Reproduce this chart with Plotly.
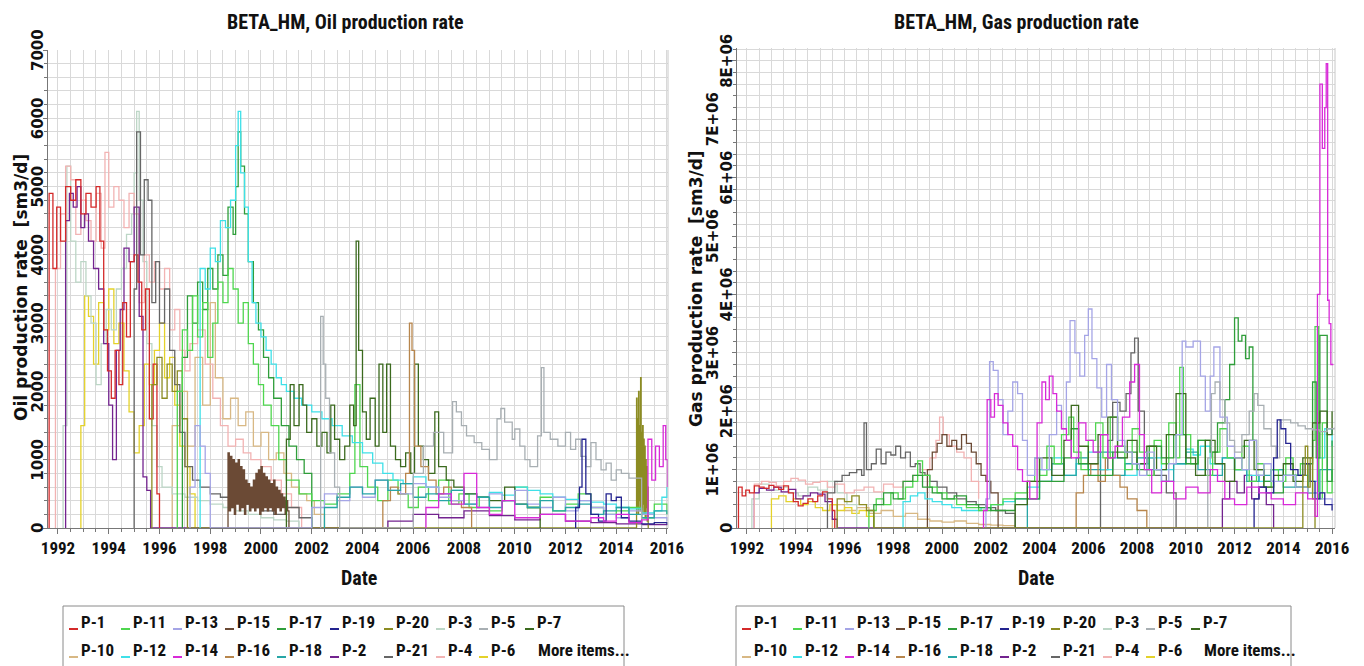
import pandas as pd
import plotly.graph_objects as go

W, H = 1364, 666

# ---------------- legend / series identity ----------------
WELLS_ROW1 = ["P-1", "P-11", "P-13", "P-15", "P-17", "P-19", "P-20", "P-3", "P-5", "P-7"]
WELLS_ROW2 = ["P-10", "P-12", "P-14", "P-16", "P-18", "P-2", "P-21", "P-4", "P-6"]
MORE_TEXT = "More items..."
COLORS = {
    "P-1": "#d42a2a", "P-11": "#4fd64f", "P-13": "#a5a5e6", "P-15": "#6b4a35",
    "P-17": "#2f9e3a", "P-19": "#23238f", "P-20": "#8c8c22", "P-3": "#bcd6c6",
    "P-5": "#a8afb3", "P-7": "#3b6a1e", "P-10": "#d8b884", "P-12": "#3fe0e8",
    "P-14": "#d82ad8", "P-16": "#b8864c", "P-18": "#27a6a6", "P-2": "#73238f",
    "P-21": "#666666", "P-4": "#f2b3b3", "P-6": "#e4d22a",
}
OIL_TICKS = [0, 1000, 2000, 3000, 4000, 5000, 6000, 7000]
OIL_TICK_TEXT = ["0", "1000", "2000", "3000", "4000", "5000", "6000", "7000"]
GAS_TICKS = [0, 1e6, 2e6, 3e6, 4e6, 5e6, 6e6, 7e6, 8e6]
GAS_TICK_TEXT = ["0", "1E+06", "2E+06", "3E+06", "4E+06", "5E+06", "6E+06", "7E+06", "8E+06"]

# ---------------- OIL production rate [sm3/d] (time in decimal years) ----------------
OIL_P1_T = [1991.63, 1991.65, 1991.8, 1991.95, 1992.1, 1992.3, 1992.5, 1992.7, 1992.9, 1993.1, 1993.3, 1993.5,
            1993.65, 1993.8, 1993.95, 1994.1, 1994.25, 1994.4, 1994.55, 1994.7, 1994.85, 1995.0, 1995.15,
            1995.3, 1995.45, 1995.6, 1995.75, 1995.9, 1996.0]
OIL_P1_V = [0, 4900, 3800, 4700, 4200, 5000, 4800, 5100, 4600, 4900, 4700, 5000,
            4200, 2900, 2300, 1900, 2600, 2100, 3300, 2800, 3900, 4000, 3600,
            2900, 3500, 1600, 2400, 500, 0]

OIL_P2_T = [1992.28, 1992.3, 1992.45, 1992.6, 1992.75, 1992.9, 1993.05, 1993.2, 1993.4, 1993.6, 1993.8, 1994.0,
            1994.15, 1994.3, 1994.45, 1994.6, 1994.8, 1995.0, 1995.2, 1995.35, 1995.5, 1995.65,
            2005.0, 2006.0, 2007.0, 2008.0, 2009.0, 2010.0, 2011.0, 2012.0, 2013.0, 2014.0, 2015.0, 2016.0]
OIL_P2_V = [0, 4500, 4900, 4700, 5000, 4400, 4600, 4200, 3800, 3500, 2700, 1800,
            1000, 2600, 3200, 4100, 3900, 4700, 3100, 750, 550, 0,
            100, 200, 150, 250, 180, 120, 200, 100, 80, 60, 50, 40]

OIL_P3_T = [1992.18, 1992.2, 1992.35, 1992.5, 1992.7, 1992.9, 1993.1, 1993.3, 1993.5, 1993.7, 1993.9, 1994.1,
            1994.3, 1994.5, 1994.7, 1994.9, 1995.0, 1995.1, 1995.2, 1995.35, 1995.5, 1995.7, 1995.9, 1996.1,
            1996.5, 1997.0, 1997.5, 1998.0, 1998.5, 1999.0, 1999.5, 2000.0, 2000.5, 2001.0, 2001.5]
OIL_P3_V = [0, 1500, 5300, 4200, 3600, 3900, 3400, 3000, 2100, 2700, 3200, 2900,
            3500, 3800, 4300, 4600, 5200, 6100, 4800, 3900, 2700, 1500, 900, 600,
            500, 450, 400, 350, 300, 250, 200, 150, 120, 100, 0]

OIL_P4_T = [1991.88, 1991.9, 1992.1, 1992.3, 1992.5, 1992.7, 1992.9, 1993.1, 1993.3, 1993.5, 1993.7, 1993.85,
            1994.0, 1994.2, 1994.4, 1994.6, 1994.8, 1995.0, 1995.2, 1995.4, 1995.6, 1995.8, 1996.0, 1996.2,
            1996.4, 1996.6, 1996.8, 1997.0, 1997.2, 1997.5, 1997.8, 1998.1, 1998.4, 1998.7, 1999.0, 1999.3,
            1999.6, 2000.0, 2000.4, 2000.8, 2001.2, 2001.6]
OIL_P4_V = [0, 3800, 4600, 5300, 5100, 4300, 4800, 4500, 4200, 4900, 4100, 5500,
            4700, 5000, 4800, 4400, 4900, 4600, 3300, 4000, 3600, 3900, 3500, 3800,
            2900, 3200, 2600, 2300, 2700, 2900, 2400, 1900, 1500, 1200, 1300, 1100,
            1000, 900, 700, 500, 300, 0]

OIL_P5_T = [2002.33, 2002.35, 2002.45, 2002.55, 2002.7, 2002.9, 2003.1, 2006.0, 2006.4, 2006.8, 2007.2, 2007.55,
            2007.7, 2007.9, 2008.1, 2008.4, 2008.7, 2009.0, 2009.3, 2009.45, 2009.6, 2009.9, 2010.0, 2010.2,
            2010.4, 2010.6, 2010.9, 2011.05, 2011.15, 2011.4, 2011.7, 2012.0, 2012.2, 2012.4, 2012.6, 2012.8,
            2013.0, 2013.2, 2013.4, 2013.6, 2013.8, 2014.0, 2014.2, 2014.5, 2014.8, 2015.0]
OIL_P5_V = [0, 3100, 2400, 1900, 1100, 600, 0, 800, 1200, 1400, 1100, 1850,
            1700, 1500, 1350, 1250, 1150, 1000, 1600, 1750, 1550, 1300, 1450, 1200,
            1000, 900, 1350, 2350, 1400, 1300, 1200, 1400, 1150, 1300, 1050, 900,
            1250, 1000, 850, 950, 700, 850, 800, 730, 730, 0]

OIL_P6_T = [1992.88, 1992.9, 1993.05, 1993.2, 1993.4, 1993.6, 1993.8, 1994.0, 1994.2, 1994.4, 1994.6, 1994.8,
            1995.0, 1995.2, 1995.4, 1995.6, 1995.8, 1996.0, 1996.2, 1996.4, 1996.6, 1996.8, 1997.0, 1997.2, 1997.4]
OIL_P6_V = [0, 1500, 3400, 3100, 2400, 3300, 2900, 3500, 2700, 3000, 2300, 1700,
            1100, 1500, 2400, 2100, 2600, 3000, 2200, 2500, 1800, 1200, 900, 500, 0]

OIL_P7_T = [2000.98, 2001.0, 2001.15, 2001.3, 2001.5, 2001.65, 2001.8, 2002.0, 2002.2, 2002.4, 2002.6, 2002.75,
            2002.9, 2003.1, 2003.3, 2003.5, 2003.65, 2003.75, 2003.85, 2004.0, 2004.15, 2004.3, 2004.5, 2004.65,
            2004.8, 2004.95, 2005.1, 2005.3, 2005.5, 2005.7, 2005.9, 2006.05, 2006.2, 2006.4, 2006.6, 2006.85,
            2007.0, 2007.3, 2007.6, 2008.0, 2008.5, 2009.0, 2009.6, 2010.0, 2010.5, 2011.0]
OIL_P7_V = [0, 1300, 2100, 1500, 2100, 1800, 1400, 1600, 1200, 1400, 1100, 1800,
            1300, 1000, 1200, 1800, 1500, 4200, 2600, 1700, 1300, 1900, 1200, 2400,
            1400, 2400, 1200, 1000, 900, 1100, 800, 2400, 1200, 1000, 800, 1700,
            900, 700, 600, 500, 450, 400, 600, 350, 300, 0]

OIL_P10_T = [1996.48, 1996.5, 1996.8, 1997.1, 1997.4, 1997.7, 1998.0, 1998.2, 1998.5, 1998.8, 1999.1, 1999.4,
             1999.7, 2000.0, 2000.3, 2000.6, 2000.9, 2001.2, 2001.5, 2001.8, 2002.1, 2002.5]
OIL_P10_V = [0, 1500, 2000, 1200, 2500, 1800, 3300, 2200, 1600, 1900, 1500, 1700,
             1200, 1400, 1000, 1100, 800, 600, 500, 400, 200, 0]

OIL_P11_T = [1996.68, 1996.7, 1996.9, 1997.1, 1997.3, 1997.5, 1997.7, 1997.9, 1998.1, 1998.3, 1998.5, 1998.7,
             1998.9, 1999.1, 1999.3, 1999.5, 1999.7, 1999.9, 2000.1, 2000.4, 2000.7, 2001.0, 2001.5, 2002.0,
             2002.5, 2003.0, 2003.5, 2003.7, 2003.9, 2004.2, 2004.6, 2005.0, 2005.4, 2005.8, 2006.2, 2006.6,
             2007.0, 2007.4, 2007.8, 2008.2, 2008.6, 2009.0, 2009.5, 2010.0, 2010.5, 2011.0, 2011.5, 2012.0,
             2012.5, 2013.0, 2013.5, 2014.0, 2014.5, 2015.0, 2015.5, 2016.0]
OIL_P11_V = [0, 2000, 2900, 2600, 3400, 2800, 3300, 2500, 3000, 3600, 3300, 3800,
             3500, 3000, 3300, 2700, 2400, 2100, 1800, 1500, 1000, 700, 500, 400,
             350, 500, 800, 2100, 900, 600, 400, 700, 500, 300, 600, 400,
             700, 350, 500, 300, 450, 250, 400, 600, 300, 450, 250, 350,
             500, 300, 200, 250, 300, 150, 350, 200]

OIL_P12_T = [1997.58, 1997.6, 1997.8, 1998.0, 1998.2, 1998.4, 1998.6, 1998.8, 1999.0, 1999.1, 1999.2, 1999.35,
             1999.5, 1999.65, 1999.8, 2000.0, 2000.2, 2000.4, 2000.6, 2000.8, 2001.0, 2001.3, 2001.6, 2002.0,
             2002.4, 2002.8, 2003.2, 2003.6, 2004.0, 2004.4, 2004.8, 2005.2, 2005.6, 2006.0, 2006.5, 2007.0,
             2007.5, 2008.0, 2008.5, 2009.0, 2009.5, 2010.0, 2010.5, 2011.0, 2011.5, 2012.0, 2012.5, 2013.0,
             2013.5, 2014.0, 2014.5, 2015.0, 2015.5, 2015.8, 2016.0]
OIL_P12_V = [0, 3800, 3500, 4100, 3900, 4500, 4400, 4800, 5600, 6100, 5200, 4700,
             3900, 3300, 3000, 2800, 2600, 2400, 2200, 2100, 2000, 1900, 1800, 1700,
             1600, 1500, 1350, 1250, 1100, 950, 800, 700, 650, 750, 600, 500,
             550, 500, 450, 520, 480, 600, 550, 500, 450, 420, 400, 380,
             350, 300, 280, 220, 250, 450, 600]

OIL_P13_T = [1997.18, 1997.2, 1997.4, 1997.6, 1997.8, 1998.0, 2002.0, 2002.5, 2003.0, 2003.5, 2004.0, 2004.5,
             2005.0, 2005.5, 2006.0, 2006.5, 2007.0, 2007.5, 2008.0, 2008.5, 2009.0, 2009.5, 2010.0, 2010.5,
             2011.0, 2011.5, 2012.0, 2012.5, 2013.0, 2013.5, 2014.0, 2014.5, 2015.0, 2015.5, 2016.0]
OIL_P13_V = [0, 600, 1500, 1200, 800, 0, 300, 500, 400, 600, 450, 700,
             550, 500, 650, 600, 450, 400, 350, 300, 500, 400, 550, 350,
             300, 450, 250, 400, 300, 200, 150, 250, 200, 150, 100]

OIL_P14_T = [2006.48, 2006.5, 2007.0, 2007.5, 2008.0, 2008.5, 2009.0, 2009.5, 2010.0, 2011.0, 2012.0, 2013.0,
             2013.5, 2014.0, 2014.5, 2015.0, 2015.25, 2015.4, 2015.55, 2015.7, 2015.85, 2015.95, 2016.02]
OIL_P14_V = [0, 300, 500, 350, 800, 300, 200, 400, 150, 200, 100, 150,
             100, 200, 80, 120, 1300, 700, 1200, 900, 1500, 1000, 600]

OIL_P15_T = [1998.66, 1998.70, 1998.75, 1998.80, 1998.85, 1998.90, 1998.95, 1999.00, 1999.05, 1999.10, 1999.15,
             1999.20, 1999.25, 1999.30, 1999.35, 1999.40, 1999.45, 1999.50, 1999.55, 1999.60, 1999.65,
             1999.70, 1999.75, 1999.80, 1999.85, 1999.90, 1999.95, 2000.00, 2000.05, 2000.10, 2000.15,
             2000.20, 2000.25, 2000.30, 2000.35, 2000.40, 2000.45, 2000.50, 2000.55, 2000.60, 2000.65,
             2000.70, 2000.75, 2000.80, 2000.85, 2000.90, 2000.95, 2001.00, 2001.05, 2001.10]
OIL_P15_V = [0, 1100, 250, 1050, 300, 1000, 200, 950, 350, 1000, 250,
             900, 300, 850, 200, 700, 350, 650, 250, 600, 300,
             700, 250, 800, 300, 850, 200, 900, 250, 800, 300,
             750, 250, 700, 300, 650, 250, 700, 200, 600, 300,
             550, 250, 500, 300, 450, 200, 400, 250, 0]

OIL_P16_T = [2004.78, 2004.8, 2005.1, 2005.4, 2005.7, 2005.85, 2005.95, 2006.05, 2006.3, 2006.6, 2006.9, 2007.2,
             2007.5, 2007.9, 2008.3]
OIL_P16_V = [0, 400, 600, 500, 800, 3000, 2600, 1200, 900, 700, 500, 600,
             400, 300, 0]

OIL_P17_T = [1996.88, 1996.9, 1997.1, 1997.3, 1997.5, 1997.7, 1997.9, 1998.1, 1998.3, 1998.5, 1998.7, 1998.9,
             1999.0, 1999.1, 1999.2, 1999.35, 1999.5, 1999.7, 1999.9, 2000.1, 2000.3, 2000.5, 2000.8, 2001.1,
             2001.4, 2001.7, 2002.0]
OIL_P17_V = [0, 2500, 3400, 3000, 3600, 3200, 3800, 3500, 4000, 3700, 4700, 4300,
             5000, 5800, 5300, 4600, 3900, 3300, 2900, 2500, 2200, 1900, 1500, 1200,
             1000, 800, 0]

OIL_P18_T = [2002.48, 2002.5, 2003.0, 2003.5, 2004.0, 2004.5, 2005.0, 2005.5, 2006.0, 2006.5, 2007.0, 2007.5,
             2008.0, 2008.5, 2009.0, 2009.5, 2010.0, 2010.5, 2011.0, 2011.5, 2012.0, 2012.5, 2013.0, 2013.5,
             2014.0, 2014.5, 2015.0, 2015.5, 2016.0]
OIL_P18_V = [0, 300, 450, 600, 500, 700, 550, 650, 450, 500, 400, 550,
             350, 450, 300, 400, 350, 300, 400, 250, 300, 350, 200, 250,
             300, 200, 150, 250, 200]

OIL_P19_T = [2012.38, 2012.4, 2012.55, 2012.65, 2012.8, 2013.0, 2013.3, 2013.6, 2013.8, 2014.0, 2014.2, 2014.5,
             2015.0, 2015.5, 2016.0]
OIL_P19_V = [0, 300, 600, 1300, 500, 200, 100, 500, 400, 450, 150, 100,
             60, 80, 50]

OIL_P20_T = [1995.68, 1995.7, 1995.9, 1996.1, 1996.3, 1996.5, 1996.7, 1996.9, 1997.1,
             2014.78, 2014.80, 2014.82, 2014.84, 2014.86, 2014.88, 2014.90, 2014.92, 2014.94, 2014.96,
             2014.98, 2015.00, 2015.02, 2015.04, 2015.06, 2015.08, 2015.10, 2015.12, 2015.14, 2015.16,
             2015.18, 2015.20, 2015.22, 2015.24, 2015.26]
OIL_P20_V = [0, 2100, 2500, 1900, 2400, 2000, 2300, 1600, 0,
             0, 1900, 300, 1600, 200, 2000, 400, 1500, 250, 2200,
             300, 1400, 200, 1500, 350, 1300, 200, 1200, 150, 1000,
             300, 900, 100, 600, 0]

OIL_P21_T = [1994.98, 1995.0, 1995.1, 1995.25, 1995.4, 1995.55, 1995.7, 1995.85, 1996.0, 1996.2, 1996.4, 1996.6,
             1996.8, 1997.0, 1997.3, 1997.6, 1998.0, 1998.4, 1998.8, 1999.2, 1999.6, 2000.0, 2000.5, 2001.0,
             2001.5, 2002.0]
OIL_P21_V = [0, 3500, 5800, 4000, 5100, 4800, 3300, 3900, 3000, 3500, 2600, 2100,
             1400, 900, 700, 600, 500, 450, 400, 350, 300, 250, 200, 300,
             150, 0]

# ---------------- GAS production rate [1E+06 sm3/d] (time in decimal years) ----------------
GAS_UNIT = 1e6
GAS_P1_T = [1991.63, 1991.65, 1991.8, 1991.95, 1992.1, 1992.3, 1992.5, 1992.7, 1992.9, 1993.1, 1993.3, 1993.5,
            1993.7, 1993.9, 1994.1, 1994.3, 1994.5, 1994.7, 1994.9, 1995.1, 1995.3, 1995.5, 1995.6]
GAS_P1_V = [0, 0.7, 0.55, 0.65, 0.6, 0.72, 0.7, 0.68, 0.73, 0.7, 0.66, 0.72,
            0.6, 0.45, 0.38, 0.42, 0.5, 0.45, 0.55, 0.62, 0.5, 0.3, 0]

GAS_P2_T = [1992.28, 1992.3, 1992.5, 1992.8, 1993.1, 1993.4, 1993.7, 1994.0, 1994.3, 1994.6, 1994.9, 1995.2,
            1995.5, 1995.7, 2011.5, 2011.8, 2012.1, 2012.4, 2012.7, 2013.0, 2013.3, 2013.6]
GAS_P2_V = [0, 0.6, 0.68, 0.65, 0.7, 0.62, 0.66, 0.5, 0.55, 0.6, 0.58, 0.45,
            0.15, 0, 0.5, 0.8, 0.6, 0.9, 0.5, 0.7, 0.4, 0]

GAS_P3_T = [1992.18, 1992.2, 1992.5, 1992.9, 1993.3, 1993.7, 1994.1, 1994.5, 1994.9, 1995.3, 1995.7, 1996.1, 1996.5]
GAS_P3_V = [0, 0.5, 0.75, 0.65, 0.7, 0.6, 0.55, 0.7, 0.65, 0.8, 0.6, 0.4, 0]

GAS_P4_T = [1992.28, 1992.3, 1992.6, 1992.9, 1993.2, 1993.5, 1993.8, 1994.1, 1994.4, 1994.7, 1995.0, 1995.3,
            1995.6, 1996.0, 1996.4, 1996.8, 1997.2, 1997.6, 1998.0, 1998.4, 1998.8, 1999.2, 1999.5, 1999.75,
            1999.9, 2000.05, 2000.3, 2000.6, 2000.9, 2001.2, 2001.5]
GAS_P4_V = [0, 0.75, 0.8, 0.78, 0.72, 0.8, 0.85, 0.82, 0.75, 0.78, 0.8, 0.7,
            0.75, 0.6, 0.65, 0.7, 0.62, 0.75, 0.7, 0.8, 0.9, 1.0, 1.2, 1.5,
            1.9, 1.6, 1.4, 1.3, 1.2, 0.8, 0.5]

GAS_P5_T = [2010.88, 2010.9, 2011.05, 2011.2, 2011.4, 2011.6, 2011.8, 2012.0, 2012.3, 2012.6, 2012.8, 2012.95,
            2013.2, 2013.5, 2013.7, 2013.85, 2014.0, 2014.3, 2014.6, 2014.9, 2015.2, 2015.5, 2015.8, 2016.1]
GAS_P5_V = [0, 1.2, 2.3, 2.5, 2.2, 1.8, 1.5, 1.3, 1.6, 2.0, 2.3, 2.1,
            1.7, 1.4, 1.2, 1.85, 1.85, 1.8, 1.75, 1.7, 1.68, 1.65, 1.7, 1.72]

GAS_P6_T = [1992.98, 1993.0, 1993.3, 1993.6, 1993.9, 1994.2, 1994.5, 1994.8, 1995.1, 1995.4, 1995.7, 1996.0,
            1996.3, 1996.6, 1996.9, 1997.2]
GAS_P6_V = [0, 0.5, 0.55, 0.45, 0.5, 0.4, 0.45, 0.35, 0.3, 0.4, 0.3, 0.35,
            0.25, 0.3, 0.2, 0]

GAS_P7_T = [2002.98, 2003.0, 2003.5, 2004.0, 2004.5, 2005.0, 2005.3, 2005.6, 2006.0, 2006.4, 2006.8, 2007.2,
            2007.6, 2008.0, 2008.4, 2008.8, 2009.2, 2009.6, 2010.0, 2010.4, 2010.8, 2011.2, 2011.6, 2012.0,
            2012.4, 2012.8, 2013.2, 2013.6, 2014.0, 2014.4, 2014.8, 2015.2, 2015.5, 2015.8, 2016.0]
GAS_P7_V = [0, 0.4, 0.8, 1.2, 0.9, 1.5, 2.1, 1.4, 1.1, 1.6, 1.9, 1.2,
            1.5, 1.1, 1.4, 1.0, 1.6, 2.3, 1.2, 0.9, 1.5, 1.1, 0.8, 1.2,
            1.5, 1.0, 0.7, 0.9, 1.1, 0.8, 1.2, 1.8, 2.0, 1.6, 2.0]

GAS_P10_T = [1995.48, 1995.5, 1996.0, 1996.5, 1997.0, 1997.5, 1998.0, 1998.5, 1999.0, 1999.5, 2000.0, 2000.5,
             2001.0, 2001.5, 2002.0, 2002.5, 2003.0]
GAS_P10_V = [0, 0.4, 0.3, 0.35, 0.25, 0.3, 0.2, 0.25, 0.15, 0.12, 0.1, 0.12,
             0.08, 0.06, 0.05, 0.04, 0]

GAS_P11_T = [1996.98, 1997.0, 1997.3, 1997.6, 1997.9, 1998.2, 1998.5, 1998.8, 1999.0, 1999.2, 1999.5, 1999.8,
             2000.2, 2000.6, 2001.0, 2001.5, 2002.0, 2002.5, 2003.0, 2003.5, 2003.8, 2004.0, 2004.3, 2004.6,
             2004.9, 2005.2, 2005.4, 2005.7, 2006.0, 2006.3, 2006.6, 2006.9, 2007.2, 2007.5, 2007.8, 2008.1,
             2008.4, 2008.7, 2009.0, 2009.3, 2009.6, 2009.75, 2009.9, 2010.2, 2010.5, 2010.8, 2011.1, 2011.4,
             2011.7, 2012.0, 2012.3, 2012.6, 2012.9, 2013.2, 2013.5, 2013.8, 2014.1, 2014.4, 2014.7, 2015.0,
             2015.2, 2015.3, 2015.45, 2015.6, 2015.8, 2016.0]
GAS_P11_V = [0, 0.3, 0.5, 0.4, 0.6, 0.5, 0.7, 0.8, 1.15, 0.9, 0.7, 0.6,
             0.5, 0.4, 0.35, 0.3, 0.4, 0.5, 0.6, 0.8, 1.2, 0.9, 1.4, 1.1,
             1.6, 1.9, 1.3, 1.0, 1.5, 1.8, 1.2, 1.9, 1.4, 1.0, 1.7, 1.3,
             0.9, 1.5, 1.1, 1.8, 1.2, 2.75, 1.6, 1.1, 1.5, 0.9, 1.3, 1.7,
             1.2, 1.0, 1.4, 0.8, 1.1, 0.7, 1.0, 0.8, 1.2, 0.9, 1.1, 0.6,
             1.5, 3.45, 0.5, 1.8, 0.6, 1.0]

GAS_P12_T = [1998.38, 1998.4, 1998.7, 1999.0, 1999.3, 1999.6, 2000.0, 2000.4, 2000.8, 2001.2, 2001.6, 2002.0,
             2002.5, 2003.0, 2003.5, 2004.0, 2004.5, 2005.0, 2005.5, 2006.0, 2006.5, 2007.0, 2007.5, 2008.0,
             2008.5, 2009.0, 2009.5, 2010.0, 2010.3, 2010.6, 2011.0, 2011.5, 2012.0, 2012.5, 2013.0, 2013.5,
             2014.0, 2014.5, 2015.0, 2015.4, 2015.7, 2016.0]
GAS_P12_V = [0, 0.45, 0.55, 0.6, 0.5, 0.45, 0.4, 0.35, 0.3, 0.3, 0.35, 0.4,
             0.45, 0.5, 0.7, 1.0, 1.2, 0.9, 1.1, 1.3, 1.0, 1.2, 0.9, 1.1,
             1.2, 1.0, 1.1, 1.35, 1.25, 1.4, 1.1, 1.2, 1.0, 0.9, 0.8, 1.0,
             0.9, 0.7, 0.8, 1.2, 1.7, 1.4]

GAS_P13_T = [2001.78, 2001.8, 2001.95, 2002.1, 2002.3, 2002.5, 2002.7, 2002.9, 2003.1, 2003.3, 2003.5, 2003.8,
             2004.1, 2004.4, 2004.7, 2004.9, 2005.1, 2005.25, 2005.45, 2005.65, 2005.85, 2006.0, 2006.15,
             2006.35, 2006.55, 2006.75, 2006.95, 2007.2, 2007.5, 2007.8, 2008.1, 2008.4, 2008.7, 2009.0, 2009.3,
             2009.6, 2009.85, 2010.0, 2010.3, 2010.6, 2010.8, 2011.0, 2011.15, 2011.4, 2011.7, 2012.0, 2012.3,
             2012.6, 2012.9, 2013.2, 2013.5, 2014.0, 2014.5, 2015.0, 2015.5, 2016.0]
GAS_P13_V = [0, 0.5, 2.85, 2.7, 2.2, 1.6, 2.0, 2.5, 2.3, 1.5, 0.9, 1.2,
             1.0, 1.6, 2.1, 1.7, 2.5, 3.55, 3.0, 2.6, 3.3, 3.75, 2.9,
             2.4, 1.9, 2.8, 2.2, 1.5, 1.3, 1.1, 0.9, 1.3, 1.0, 0.8, 1.1,
             1.6, 3.2, 3.1, 3.2, 2.6, 2.0, 2.6, 3.1, 1.9, 1.4, 1.2, 1.0,
             1.5, 0.9, 1.1, 0.8, 0.9, 0.7, 0.6, 0.5, 0.4]

GAS_P14_T = [2001.68, 2001.7, 2001.85, 2002.0, 2002.15, 2002.3, 2002.5, 2002.7, 2002.9, 2003.1, 2003.3, 2003.6,
             2003.9, 2004.1, 2004.25, 2004.4, 2004.55, 2004.7, 2004.9, 2005.1, 2005.3, 2005.6, 2005.9, 2006.2,
             2006.5, 2006.8, 2007.1, 2007.4, 2007.7, 2007.9, 2008.1, 2008.3, 2008.6, 2009.0, 2009.5, 2010.0,
             2010.5, 2011.0, 2011.3, 2011.6, 2012.0, 2012.5, 2013.0, 2013.5, 2014.0, 2014.5, 2015.0, 2015.3,
             2015.4, 2015.5, 2015.6, 2015.7, 2015.76, 2015.82, 2015.88, 2015.95, 2016.05]
GAS_P14_V = [0, 0.3, 2.2, 1.9, 2.3, 2.1, 1.8, 1.6, 1.4, 1.0, 0.8, 0.5,
             1.8, 2.5, 2.2, 2.6, 2.3, 2.0, 1.7, 1.5, 1.2, 1.8, 1.5, 1.3,
             1.6, 1.2, 1.4, 1.9, 2.5, 2.8, 1.6, 1.0, 0.6, 0.8, 0.5, 0.7,
             0.6, 1.0, 0.8, 0.5, 0.4, 0.7, 0.6, 0.5, 0.4, 0.6, 0.5, 0.2,
             4.0, 7.6, 6.5, 7.2, 7.95, 3.9, 3.5, 2.8, 2.8]

GAS_P15_T = [1999.38, 1999.4, 1999.6, 1999.8, 2000.0, 2000.2, 2000.4, 2000.6, 2000.8, 2001.0, 2001.2, 2001.4,
             2001.6, 2001.8, 2002.0, 2002.3]
GAS_P15_V = [0, 1.0, 1.3, 1.45, 1.6, 1.4, 1.5, 1.35, 1.6, 1.45, 1.3, 1.1,
             0.9, 0.8, 0.6, 0]

GAS_P16_T = [2005.48, 2005.5, 2005.8, 2006.1, 2006.4, 2006.7, 2007.0, 2007.3, 2007.6, 2008.0, 2008.4]
GAS_P16_V = [0, 0.6, 0.9, 1.1, 0.8, 1.2, 0.9, 0.7, 0.5, 0.3, 0]

GAS_P17_T = [1997.18, 1997.2, 1997.6, 1998.0, 1998.4, 1998.8, 1999.2, 1999.6, 2000.0, 2000.5, 2001.0, 2001.5,
             2002.0, 2003.0, 2004.0, 2005.0, 2005.3, 2005.6, 2006.0, 2007.0, 2008.0, 2008.5, 2009.0, 2009.5,
             2010.0, 2010.5, 2011.0, 2011.3, 2011.6, 2011.8, 2012.0, 2012.15, 2012.3, 2012.45, 2012.6, 2012.75,
             2012.9, 2013.2, 2013.6, 2014.0, 2014.5, 2015.0, 2015.2, 2015.35, 2015.5, 2015.8, 2016.0]
GAS_P17_V = [0, 0.4, 0.6, 0.5, 0.8, 0.9, 0.7, 0.6, 0.5, 0.55, 0.4, 0.35,
             0.3, 0.5, 0.8, 1.2, 1.7, 1.1, 0.9, 1.3, 1.0, 1.4, 1.2, 1.6,
             1.1, 1.5, 1.3, 1.8, 2.2, 2.8, 3.6, 3.2, 3.3, 2.9, 3.1, 1.5,
             1.0, 0.8, 0.6, 0.9, 0.7, 1.1, 2.5, 1.2, 3.3, 0.8, 1.5]

GAS_P18_T = [2003.48, 2003.5, 2004.0, 2004.5, 2005.0, 2005.5, 2006.0, 2006.5, 2007.0, 2007.5, 2008.0, 2008.5,
             2009.0, 2009.5, 2010.0, 2010.5, 2011.0, 2011.5, 2012.0, 2012.5, 2013.0, 2013.5, 2014.0, 2014.5,
             2015.0, 2015.5, 2016.0]
GAS_P18_V = [0, 0.5, 0.8, 1.1, 0.9, 1.2, 1.0, 1.3, 0.9, 1.1, 1.2, 1.0,
             0.8, 1.1, 1.3, 1.0, 0.9, 1.2, 1.0, 0.8, 0.9, 1.0, 0.7, 0.9,
             0.6, 1.0, 0.8]

GAS_P19_T = [2012.78, 2012.8, 2013.0, 2013.3, 2013.6, 2013.75, 2013.9, 2014.1, 2014.3, 2014.6, 2014.9, 2015.1,
             2015.3, 2015.5, 2015.7, 2016.0]
GAS_P19_V = [0, 0.5, 0.7, 0.6, 1.2, 1.85, 1.7, 1.45, 1.0, 0.9, 1.1, 0.8,
             0.5, 0.6, 0.4, 0.3]

GAS_P20_T = [1995.68, 1995.7, 1996.0, 1996.3, 1996.6, 1996.9, 1997.2, 2014.8, 2014.9, 2015.0, 2015.1, 2015.2, 2015.3]
GAS_P20_V = [0, 0.5, 0.45, 0.55, 0.4, 0.3, 0, 0.9, 1.4, 0.7, 1.2, 0.5, 0]

GAS_P21_T = [1995.28, 1995.3, 1995.6, 1995.9, 1996.2, 1996.5, 1996.7, 1996.8, 1996.9, 1997.1, 1997.3, 1997.5,
             1997.7, 1997.9, 1998.1, 1998.3, 1998.5, 1998.7, 1998.9, 1999.1, 1999.3, 1999.5, 1999.8, 2000.2,
             2000.6, 2001.0, 2001.4, 2001.8, 2002.2, 2002.6, 2003.0, 2006.5, 2006.8, 2007.0, 2007.3, 2007.55,
             2007.75, 2007.9, 2008.05, 2008.3, 2008.7, 2009.2, 2009.6]
GAS_P21_V = [0, 0.6, 0.8, 0.9, 0.95, 1.0, 0.9, 1.8, 1.0, 1.1, 1.35, 1.1,
             1.3, 1.25, 1.4, 1.2, 1.3, 1.05, 1.1, 0.95, 0.9, 0.8, 0.7, 0.6,
             0.5, 0.45, 0.4, 0.35, 0.3, 0.25, 0, 1.0, 1.5, 2.15, 2.0, 2.3,
             3.0, 3.25, 2.0, 1.2, 0.9, 0.6, 0]

# tables built from the named arrays above (drawing order: first = bottom)
OIL = {
    "P-10": (OIL_P10_T, OIL_P10_V), "P-6": (OIL_P6_T, OIL_P6_V), "P-3": (OIL_P3_T, OIL_P3_V),
    "P-4": (OIL_P4_T, OIL_P4_V), "P-2": (OIL_P2_T, OIL_P2_V), "P-1": (OIL_P1_T, OIL_P1_V),
    "P-21": (OIL_P21_T, OIL_P21_V), "P-20": (OIL_P20_T, OIL_P20_V), "P-15": (OIL_P15_T, OIL_P15_V),
    "P-17": (OIL_P17_T, OIL_P17_V), "P-11": (OIL_P11_T, OIL_P11_V), "P-12": (OIL_P12_T, OIL_P12_V),
    "P-7": (OIL_P7_T, OIL_P7_V), "P-16": (OIL_P16_T, OIL_P16_V), "P-13": (OIL_P13_T, OIL_P13_V),
    "P-18": (OIL_P18_T, OIL_P18_V), "P-5": (OIL_P5_T, OIL_P5_V), "P-19": (OIL_P19_T, OIL_P19_V),
    "P-14": (OIL_P14_T, OIL_P14_V),
}
GAS = {
    "P-10": (GAS_P10_T, GAS_P10_V), "P-6": (GAS_P6_T, GAS_P6_V), "P-3": (GAS_P3_T, GAS_P3_V),
    "P-2": (GAS_P2_T, GAS_P2_V), "P-4": (GAS_P4_T, GAS_P4_V), "P-1": (GAS_P1_T, GAS_P1_V),
    "P-21": (GAS_P21_T, GAS_P21_V), "P-15": (GAS_P15_T, GAS_P15_V), "P-12": (GAS_P12_T, GAS_P12_V),
    "P-18": (GAS_P18_T, GAS_P18_V), "P-16": (GAS_P16_T, GAS_P16_V), "P-11": (GAS_P11_T, GAS_P11_V),
    "P-17": (GAS_P17_T, GAS_P17_V), "P-7": (GAS_P7_T, GAS_P7_V), "P-13": (GAS_P13_T, GAS_P13_V),
    "P-5": (GAS_P5_T, GAS_P5_V), "P-19": (GAS_P19_T, GAS_P19_V), "P-20": (GAS_P20_T, GAS_P20_V),
    "P-14": (GAS_P14_T, GAS_P14_V),
}
for tbl in (OIL, GAS):
    for k, (t, v) in tbl.items():
        if len(t) != len(v):
            print("length mismatch", k, len(t), len(v))


def to_date(y):
    yr = int(y)
    a = pd.Timestamp(year=yr, month=1, day=1)
    b = pd.Timestamp(year=yr + 1, month=1, day=1)
    return a + (b - a) * (y - yr)


NARROW = "Liberation Sans Narrow, Arial Narrow, Roboto Condensed, Liberation Sans, sans-serif"
WIDE = "DejaVu Sans, Verdana, sans-serif"


def px(x):
    return x / W


def py(y):
    return 1 - y / H


fig = go.Figure()
for name, (t, v) in OIL.items():
    fig.add_trace(go.Scatter(x=[to_date(a) for a in t], y=v, mode="lines", name=name,
                             line=dict(color=COLORS[name], width=1.3, shape="hv"),
                             xaxis="x", yaxis="y", showlegend=False))
for name, (t, v) in GAS.items():
    fig.add_trace(go.Scatter(x=[to_date(a) for a in t], y=[a * GAS_UNIT for a in v], mode="lines",
                             name=name, line=dict(color=COLORS[name], width=1.3, shape="hv"),
                             xaxis="x2", yaxis="y2", showlegend=False))

GRID = "#d9d9d9"
AXLINE = "#777777"
xcommon = dict(type="date", tickformat="%Y", dtick="M24", tick0="1992-01-01", automargin=False,
               showgrid=True, gridcolor=GRID, gridwidth=1,
               minor=dict(dtick="M6", showgrid=True, gridcolor=GRID, ticks="outside", ticklen=3,
                          tickcolor=AXLINE),
               ticks="outside", ticklen=5, tickcolor=AXLINE,
               showline=True, linecolor=AXLINE, linewidth=1, zeroline=False,
               tickfont=dict(family=NARROW, size=17, color="#111111", weight="bold"))
ycommon = dict(showticklabels=False, automargin=False, showgrid=True, gridcolor=GRID, zeroline=False,
               ticks="outside", ticklen=4, tickcolor=AXLINE,
               showline=True, linecolor=AXLINE, linewidth=1)

fig.update_layout(
    template="none",
    width=W, height=H, margin=dict(l=0, r=0, t=0, b=0, autoexpand=False),
    paper_bgcolor="white", plot_bgcolor="white", showlegend=False,
    xaxis=dict(domain=[px(48), px(668)], range=[to_date(1991.606), to_date(2016.04)], anchor="y", **xcommon),
    xaxis2=dict(domain=[px(737), px(1335)], range=[to_date(1991.59), to_date(2016.12)], anchor="y2", **xcommon),
    yaxis=dict(domain=[py(528), py(50)], range=[0, 7000], tickvals=OIL_TICKS, anchor="x",
               minor=dict(dtick=200, showgrid=True, gridcolor=GRID, ticks="outside", ticklen=3, tickcolor=AXLINE),
               **ycommon),
    yaxis2=dict(domain=[py(528), py(48)], range=[0, 8.22e6], tickvals=GAS_TICKS, anchor="x2",
                minor=dict(dtick=2e5, showgrid=True, gridcolor=GRID, ticks="outside", ticklen=3, tickcolor=AXLINE),
                **ycommon),
)

shapes = []
ann = []
for (x0, x1, y0, y1) in [(48, 668, 50, 528), (737, 1335, 48, 528)]:
    shapes.append(dict(type="line", xref="paper", yref="paper", x0=px(x1), x1=px(x1), y0=py(y0), y1=py(y1),
                       line=dict(color="#c8c8c8", width=1)))

TITLE_FONT = dict(family=NARROW, size=20, color="#111111", weight="bold")
ann.append(dict(text="BETA_HM, Oil production rate", x=px(345), y=py(22), xref="paper", yref="paper",
                showarrow=False, font=TITLE_FONT, xanchor="center", yanchor="middle"))
ann.append(dict(text="BETA_HM, Gas production rate", x=px(1016), y=py(22), xref="paper", yref="paper",
                showarrow=False, font=TITLE_FONT, xanchor="center", yanchor="middle"))
YT_FONT = dict(family=WIDE, size=17, color="#111111", weight="bold")
ann.append(dict(text="Oil production rate  [sm3/d]", x=px(21), y=py(288), xref="paper", yref="paper",
                textangle=-90, showarrow=False, font=YT_FONT, xanchor="center", yanchor="middle"))
ann.append(dict(text="Gas production rate  [sm3/d]", x=px(696), y=py(289), xref="paper", yref="paper",
                textangle=-90, showarrow=False, font=YT_FONT, xanchor="center", yanchor="middle"))
XT_FONT = dict(family=NARROW, size=20, color="#111111", weight="bold")
ann.append(dict(text="Date", x=px(359), y=py(578), xref="paper", yref="paper", showarrow=False,
                font=XT_FONT, xanchor="center", yanchor="middle"))
ann.append(dict(text="Date", x=px(1036), y=py(578), xref="paper", yref="paper", showarrow=False,
                font=XT_FONT, xanchor="center", yanchor="middle"))
TICK_FONT = dict(family=WIDE, size=15, color="#111111", weight="bold")
for val, txt in zip(OIL_TICKS, OIL_TICK_TEXT):
    ann.append(dict(text=txt, x=px(38), y=val, xref="paper", yref="y", textangle=-90, showarrow=False,
                    font=TICK_FONT, xanchor="center", yanchor="middle"))
for i, (val, txt) in enumerate(zip(GAS_TICKS, GAS_TICK_TEXT)):
    xc = 727 if i % 2 == 0 else 713
    ann.append(dict(text=txt, x=px(xc), y=val, xref="paper", yref="y2", textangle=-90, showarrow=False,
                    font=TICK_FONT, xanchor="center", yanchor="middle"))

LEG_FONT = dict(family=NARROW, size=17, color="#111111", weight="bold")
COLS_LEFT = [69, 121, 173, 225, 277, 330, 384, 436, 479, 525]
COLS_RIGHT = [742, 793, 845, 896, 948, 1000, 1051, 1103, 1146, 1191]
ROW_Y = [622, 650]
for (bx0, bx1, cols) in [(63, 624, COLS_LEFT), (736, 1291, COLS_RIGHT)]:
    shapes.append(dict(type="rect", xref="paper", yref="paper", x0=px(bx0), x1=px(bx1), y0=py(606),
                       y1=py(700), line=dict(color="#8a8a8a", width=1), fillcolor="rgba(0,0,0,0)"))
    for r, row in enumerate([WELLS_ROW1, WELLS_ROW2 + [MORE_TEXT]]):
        for c, name in enumerate(row):
            x0 = cols[c]
            yc = ROW_Y[r]
            if name in COLORS:
                shapes.append(dict(type="line", xref="paper", yref="paper", x0=px(x0), x1=px(x0 + 9),
                                   y0=py(yc + 7), y1=py(yc + 7), line=dict(color=COLORS[name], width=2)))
                ann.append(dict(text=name, x=px(x0 + 10), y=py(yc), xref="paper", yref="paper",
                                showarrow=False, font=LEG_FONT, xanchor="left", yanchor="middle"))
            else:
                ann.append(dict(text=name, x=px(x0 + 11), y=py(yc), xref="paper", yref="paper",
                                showarrow=False, font=LEG_FONT, xanchor="left", yanchor="middle"))

fig.update_layout(shapes=shapes, annotations=ann)
fig.write_html("out.html", config={"displayModeBar": False},
               post_script="document.body.style.margin='0';document.body.style.overflow='hidden';")
